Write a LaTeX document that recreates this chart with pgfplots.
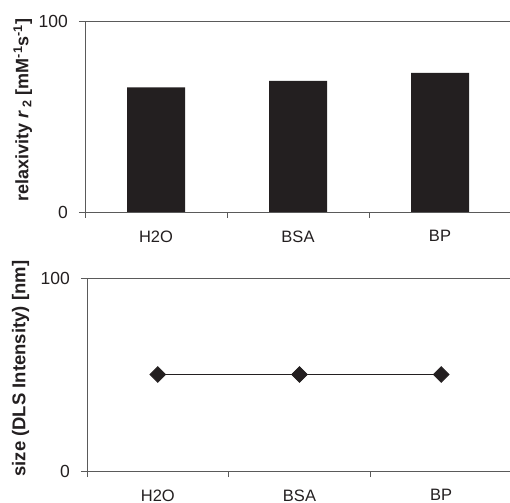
\documentclass[border=0pt]{standalone}
\usepackage{pgfplots}
\pgfplotsset{compat=1.18}
\usepackage{fontspec}
\setmainfont{Liberation Sans}
\definecolor{ink}{HTML}{231F20}
\definecolor{axgray}{HTML}{5A5A5A}
\newcommand{\tl}[1]{{\fontsize{17.5bp}{20bp}\selectfont #1}}
\begin{document}
\begin{tikzpicture}
\useasboundingbox (0bp,0bp) rectangle (510bp,503bp);
\pgfplotsset{
  myaxis/.style={
    scale only axis,
    xmin=0, xmax=3, ymin=0, ymax=100,
    axis x line*=bottom, axis y line*=left,
    axis line style={axgray, line width=0.8pt, -},
    tick align=outside,
    xtick={0.5,1.5,2.5}, xticklabels={H2O,BSA,BP},
    major x tick style={draw=none},
    minor xtick={0,1,2,3},
    minor tick length=6bp,
    major tick length=6bp,
    every tick/.style={axgray, line width=0.8pt},
    ytick={0,100}, yticklabels={\tl{0},\tl{100}},
    xticklabel style={font=\fontsize{16.5bp}{19bp}\selectfont, text=ink, yshift=-9bp},
    yticklabel style={text=ink, anchor=east, inner sep=0pt, xshift=-11bp},
    clip=false,
  }
}
\begin{axis}[myaxis, at={(85bp,291bp)}, anchor=south west, width=426bp, height=191bp,
  ylabel={relaxivity \textit{r}\,\textsubscript{2} [mM\textsuperscript{-1}s\textsuperscript{-1}]},
  every axis y label/.style={at={(axis description cs:-0.146,0.534)}, rotate=90, anchor=center, font=\bfseries\fontsize{18bp}{21bp}\selectfont, text=ink}]
\addplot[ybar, fill=ink, draw=none, bar width=58bp] coordinates {(0.5,65.2) (1.5,68.6) (2.5,72.8)};
\draw[axgray, line width=0.8pt] (rel axis cs:0,1) -- (rel axis cs:1,1);
\end{axis}
\begin{axis}[myaxis, at={(87bp,32bp)}, anchor=south west, width=425bp, height=193bp,
  ylabel={size (DLS Intensity) [nm]},
  every axis y label/.style={at={(axis description cs:-0.156,0.53)}, rotate=90, anchor=center, font=\bfseries\fontsize{18.5bp}{21bp}\selectfont, text=ink}]
\addplot[ink, line width=0.8pt, mark=square*, mark options={rotate=45, fill=ink, solid}, mark size=5.5bp] coordinates {(0.5,50) (1.5,50) (2.5,50)};
\draw[axgray, line width=0.8pt] (rel axis cs:0,1) -- (rel axis cs:1,1);
\end{axis}
\end{tikzpicture}
\end{document}
